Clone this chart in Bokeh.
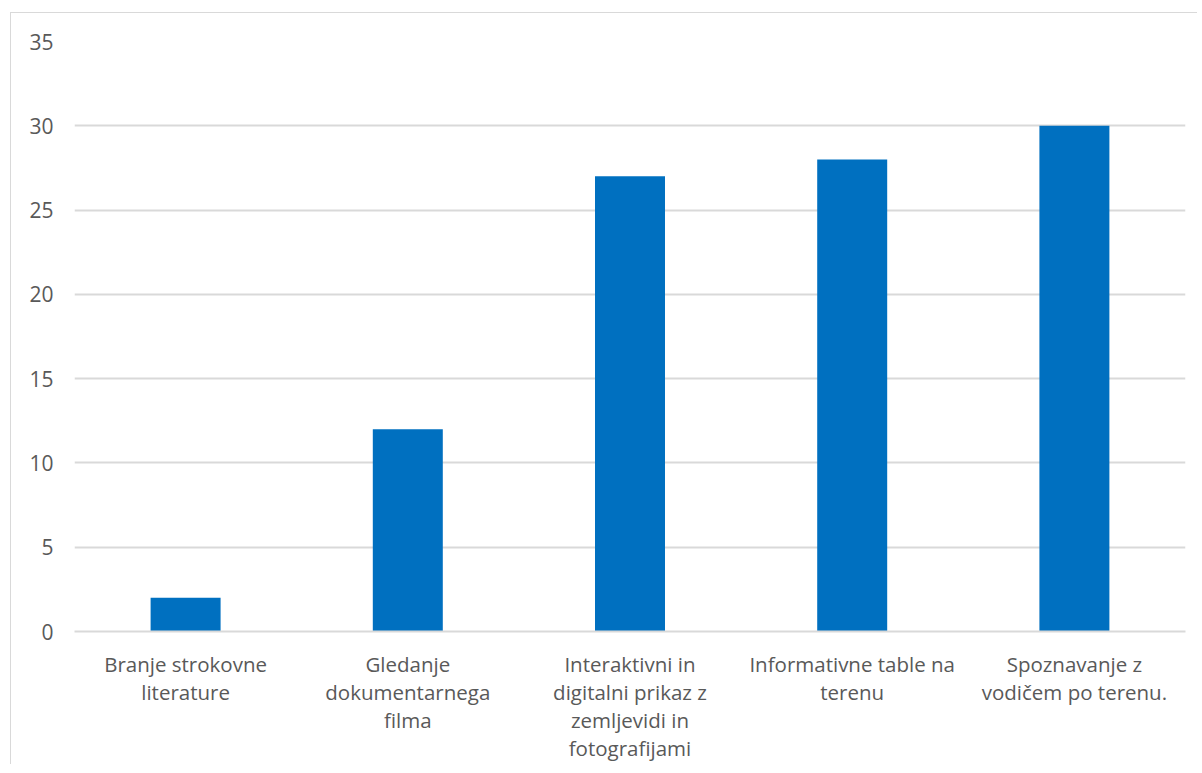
from bokeh.plotting import figure
from bokeh.models import ColumnDataSource, Range1d, FactorRange
from bokeh.embed import file_html
from bokeh.resources import INLINE

categories = [
    "Branje strokovne\nliterature",
    "Gledanje\ndokumentarnega\nfilma",
    "Interaktivni in\ndigitalni prikaz z\nzemljevidi in\nfotografijami",
    "Informativne table na\nterenu",
    "Spoznavanje z\nvodičem po terenu.",
]
values = [2, 12, 27, 28, 30]
y_ticks = [0, 5, 10, 15, 20, 25, 30, 35]

FONT = "Open Sans"
TEXT = "#595959"
GRID = "#D9D9D9"
BAR = "#0070C0"

src = ColumnDataSource(dict(cat=categories, val=values))

p = figure(
    x_range=FactorRange(*categories, range_padding=0),
    y_range=Range1d(0, 35),
    frame_width=1111, frame_height=590,
    min_border_left=63, min_border_top=28, min_border_right=12, min_border_bottom=128,
    output_backend="svg", toolbar_location=None,
)
p.styles = {"margin-left": "10px", "margin-top": "12px",
            "border-left": "1px solid #D9D9D9", "border-top": "1px solid #D9D9D9"}
p.outline_line_color = None
p.background_fill_color = "white"
p.border_fill_color = "white"

p.vbar(x="cat", top="val", width=0.315, source=src, fill_color=BAR, line_color=None)

p.yaxis.ticker = y_ticks
p.yaxis.axis_line_color = None
p.yaxis.major_tick_line_color = None
p.yaxis.minor_tick_line_color = None
p.yaxis.major_tick_out = 0
p.yaxis.major_label_standoff = 21
p.yaxis.major_label_text_font = FONT
p.yaxis.major_label_text_font_size = "21px"
p.yaxis.major_label_text_color = TEXT

p.xaxis.axis_line_color = GRID
p.xaxis.axis_line_width = 2
p.xaxis.major_tick_line_color = None
p.xaxis.minor_tick_line_color = None
p.xaxis.major_tick_out = 0
p.xaxis.major_label_standoff = 18
p.xaxis.major_label_text_font = FONT
p.xaxis.major_label_text_font_size = "20.5px"
p.xaxis.major_label_text_color = TEXT
p.xaxis.major_label_text_align = "center"
p.xaxis.major_label_text_line_height = 1.0

p.xgrid.grid_line_color = None
p.ygrid.grid_line_color = GRID
p.ygrid.grid_line_width = 2

open("out.html", "w").write(file_html(p, INLINE))
